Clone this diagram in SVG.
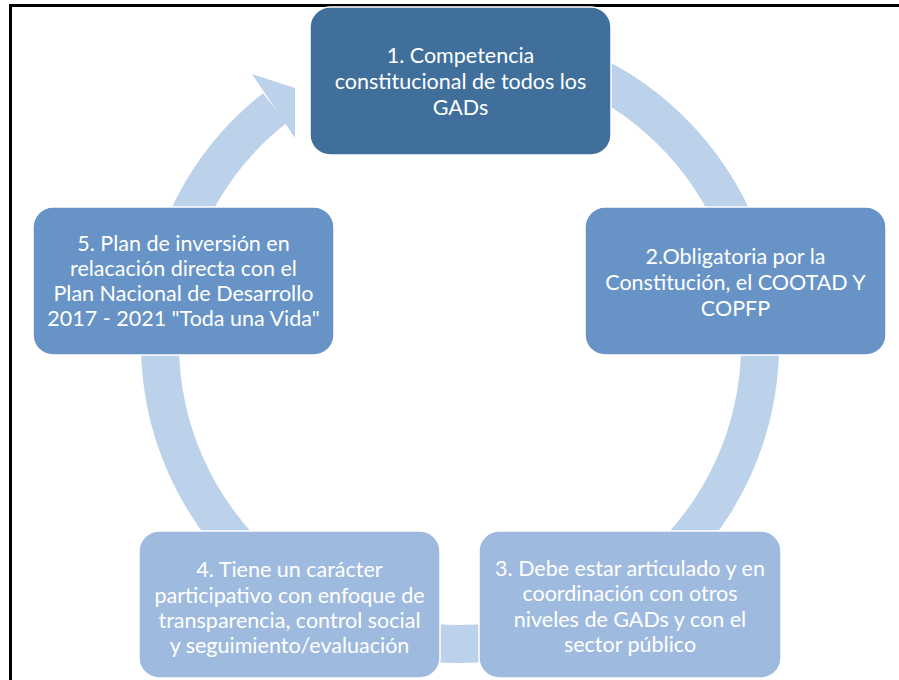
<svg xmlns="http://www.w3.org/2000/svg" width="899" height="680" viewBox="0 0 899 680">
<style>
.box{stroke:#ffffff;stroke-width:1.5}
.t{font-family:Lato,"Liberation Sans",sans-serif;font-size:21.5px;fill:#ffffff;text-anchor:middle}
</style>
<rect x="0" y="0" width="899" height="680" fill="#ffffff"/>
<line x1="9" y1="5.5" x2="899" y2="5.5" stroke="#000" stroke-width="3"/>
<line x1="10.5" y1="4" x2="10.5" y2="680" stroke="#000" stroke-width="3"/>
<g id="connectors">
<path d="M580,69 A300,300 0 1 1 274.7,108.1" fill="none" stroke="#bcd1ea" stroke-width="38"/>
<polygon points="252,74 295,88 295,138" fill="#bcd1ea"/>
</g>
<g id="node1">
<rect class="box" x="310" y="7" width="301" height="148" rx="20" fill="#416f9c"/>
<text class="t" x="460.5" y="63">1. Competencia</text>
<text class="t" x="460.5" y="89">constitucional de todos los</text>
<text class="t" x="460.5" y="115">GADs</text>
</g>
<g id="node2">
<rect class="box" x="585" y="207" width="301" height="148" rx="20" fill="#6793c6"/>
<text class="t" x="735.5" y="264">2.Obligatoria por la</text>
<text class="t" x="735.5" y="290">Constitución, el COOTAD Y</text>
<text class="t" x="735.5" y="316">COPFP</text>
</g>
<g id="node3">
<rect class="box" x="479" y="531" width="302" height="147" rx="20" fill="#9fbadf"/>
<text class="t" x="630" y="576">3. Debe estar articulado y en</text>
<text class="t" x="630" y="601">coordinación con otros</text>
<text class="t" x="630" y="627">niveles de GADs y con el</text>
<text class="t" x="630" y="652">sector público</text>
</g>
<g id="node4">
<rect class="box" x="139" y="531" width="301" height="147" rx="20" fill="#9fbadf"/>
<text class="t" x="289.5" y="577">4. Tiene un carácter</text>
<text class="t" x="289.5" y="603">participativo con enfoque de</text>
<text class="t" x="289.5" y="628">transparencia, control social</text>
<text class="t" x="289.5" y="653">y seguimiento/evaluación</text>
</g>
<g id="node5">
<rect class="box" x="33" y="207" width="301" height="148" rx="20" fill="#6793c6"/>
<text class="t" x="183.5" y="251">5. Plan de inversión en</text>
<text class="t" x="183.5" y="276">relacación directa con el</text>
<text class="t" x="183.5" y="301">Plan Nacional de Desarrollo</text>
<text class="t" x="183.5" y="326">2017 - 2021 "Toda una Vida"</text>
</g>
</svg>
